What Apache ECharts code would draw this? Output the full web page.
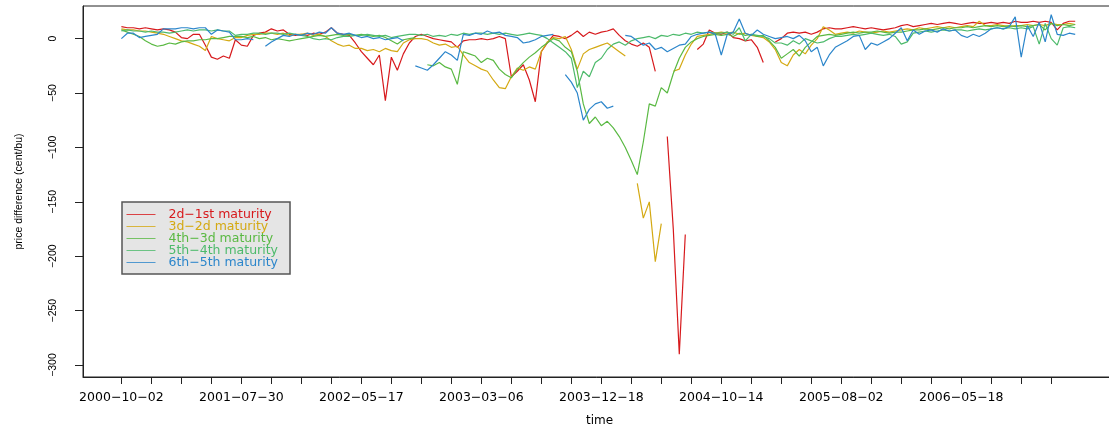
<!DOCTYPE html>
<html><head><meta charset="utf-8">
<script src="https://cdn.jsdelivr.net/npm/echarts@6/dist/echarts.min.js"></script>
<style>html,body{margin:0;padding:0;background:#fff}#c{width:1109px;height:425px}</style>
</head><body><div id="c"></div>
<script>
// series names and colours
const seriesNames = ["2d\u22121st maturity","3d\u22122d maturity","4th\u22123d maturity","5th\u22124th maturity","6th\u22125th maturity"];
const seriesColors = ["#d7191c","#d4a913","#5ab943","#4dba6b","#2c86cb"];
// date labels, one every 200 trading days starting at observation 0
const tickDates = ["2000-10-02","2001-07-30","2002-05-17","2003-03-06","2003-12-18","2004-10-14","2005-08-02","2006-05-18"];
const sampleStep = 10; // trading days between stored samples

// spread values (cent/bu), sampled every 10 trading days from 2000-10-02
const spread21 = [
 11,10,10,9,10,9,8,9,8,6,
 1,0,4,4,-6,-17,-19,-16,-18,-1,
 -6,-7,3,5,6,9,7,8,4,3,
 4,3,5,4,6,10,5,4,3,-4,
 -12,-18,-24,-15,-57,-17,-29,-14,-4,2,
 4,2,0,-1,-2,-3,-8,-2,-1,-1,
 0,-1,0,2,0,-35,-30,-24,-38,-58,
 -12,-4,3,2,0,3,7,2,6,4,
 6,7,9,3,-2,-5,-7,-4,-8,-30,
 null,-90,-175,-290,-180,null,-10,-5,8,5,
 4,6,1,0,-2,-1,-8,-22,null,-3,
 0,5,6,5,6,4,6,9,10,9,
 9,10,11,10,9,10,9,8,9,10,
 12,13,11,12,13,14,13,14,15,14,
 13,14,15,14,14,15,14,15,14,16,
 15,15,16,15,16,15,8,14,16,16];
const spread32 = [
 9,8,8,7,7,6,5,4,2,0,
 -2,-3,-5,-7,-11,2,0,-1,-2,1,
 1,3,4,4,5,5,4,5,3,4,
 4,5,3,4,2,-2,-5,-7,-6,-9,
 -9,-11,-10,-12,-9,-11,-12,-4,-1,0,
 0,-1,-4,-6,-5,-8,-7,-15,-22,-25,
 -28,-30,-38,-45,-46,-35,-27,-29,-26,-28,
 -12,-3,1,0,2,-10,-28,-14,-10,-8,
 -6,-4,-8,-12,-16,null,-133,-165,-150,-205,
 -170,null,-30,-28,-15,-5,2,3,4,5,
 6,5,6,4,5,3,2,1,-3,-10,
 -22,-25,-15,-10,-14,-6,0,11,8,4,
 5,6,5,7,6,5,6,7,6,7,
 8,9,8,10,9,10,11,10,11,10,
 11,12,11,16,12,12,13,12,11,12,
 12,13,12,13,12,14,13,13,14,13];
const spread43 = [
 8,6,4,2,-2,-5,-7,-6,-4,-5,
 -3,-2,-2,-1,-1,0,0,1,2,2,
 2,1,2,0,1,-1,0,-1,-2,-1,
 0,1,2,3,2,3,4,3,4,3,
 4,3,2,3,1,-2,-5,-1,0,1,
 null,-24,-25,-22,-26,-28,-42,-12,-14,-16,
 -22,-18,-20,-28,-33,-36,-28,-22,-17,-13,
 -8,-4,0,-2,-8,-12,-30,-60,-78,-72,
 -80,-76,-82,-90,-100,-112,-125,-95,-60,-62,
 -45,-50,-32,-18,-8,-3,0,2,3,4,
 3,4,2,5,3,4,2,3,-2,-8,
 -18,-14,-10,-16,-8,-3,2,3,4,3,
 4,5,6,5,6,6,7,6,5,6,
 6,7,8,8,9,8,9,10,9,10,
 10,11,10,11,12,11,12,11,12,11,
 12,11,12,13,8,14,12,13,12,13];
const spread54 = [
 7,8,7,7,6,7,6,6,5,6,
 7,8,7,8,8,7,8,7,7,3,
 4,4,5,5,4,5,5,4,5,4,
 3,2,0,-1,0,-1,1,2,2,3,
 3,4,3,2,3,1,2,3,4,4,
 3,4,2,3,2,4,3,5,4,5,
 5,4,5,4,5,4,3,4,5,4,
 3,0,-4,-8,-12,-18,-45,-30,-35,-22,
 -18,-10,-5,-3,-6,-2,0,1,2,0,
 3,2,4,3,5,4,6,5,6,5,
 5,6,4,10,-2,4,3,2,0,-4,
 -4,-6,-2,-5,0,-2,-4,-3,0,2,
 2,3,4,3,4,5,4,3,4,2,
 -5,-3,5,6,7,6,7,8,7,8,
 8,7,8,9,8,9,10,9,10,9,
 10,9,11,-5,14,0,-6,10,11,10];
const spread65 = [
 0,5,5,1,2,3,4,9,9,9,
 10,10,9,10,10,4,8,7,6,-1,
 -1,0,-1,null,-7,-3,0,3,2,4,
 3,5,4,6,5,10,5,4,5,3,
 1,2,0,1,-1,0,1,-2,null,-25,
 -27,-29,-24,-18,-12,-15,-20,4,3,5,
 4,7,5,6,3,2,1,-4,-3,-1,
 2,3,4,null,-33,-40,-50,-75,-65,-60,
 -58,-64,-62,null,3,2,-2,-6,-4,-10,
 -8,-12,-9,-6,-5,2,4,5,6,4,
 -15,4,6,18,5,3,8,4,2,0,
 1,2,0,3,-2,-12,-8,-25,-15,-8,
 -5,-2,2,3,-10,-4,-6,-3,0,5,
 10,-2,8,4,7,8,6,9,7,8,
 3,1,4,2,5,9,10,9,11,20,
 -17,12,2,15,-3,22,4,3,5,4];

const allSeries = [spread21, spread32, spread43, spread54, spread65];
const obsIndex = spread21.map((_, i) => i * sampleStep);
const labelAt = tickDates.map((_, i) => i * 200);
const tickAt = []; for (let v = 0; v <= 1550; v += 50) tickAt.push(v);
const yTicks = [0,-50,-100,-150,-200,-250,-300];

const chart = echarts.init(document.getElementById('c'), null, {renderer:'canvas'});
const minus = s => String(s).replace(/-/g, '\u2212');
chart.setOption({
  animation: false,
  backgroundColor: '#fff',
  grid: {left: 83, right: -7, top: 6, bottom: 48, show: true, borderColor: '#222', borderWidth: 1,
    containLabel: false, outerBoundsMode: 'none'},
  legend: {
    left: 122, top: 202, orient: 'vertical',
    backgroundColor: '#e5e5e5', borderColor: '#555', borderWidth: 1.5, borderRadius: 0,
    padding: [6, 12, 5, 4], itemWidth: 29, itemHeight: 11, itemGap: -1,
    selectedMode: false,
    itemStyle: {opacity: 0},
    lineStyle: {width: 1, opacity: 0.8},
    formatter: n => '  ' + n,
    textStyle: {fontFamily: 'DejaVu Sans', fontSize: 12.5, lineHeight: 11},
    data: seriesNames.map((n, i) => ({name: n, textStyle: {color: seriesColors[i]}}))
  },
  xAxis: {
    type: 'value', min: -64, max: 1658,
    name: 'time', nameLocation: 'middle', nameGap: 38,
    nameTextStyle: {fontFamily: 'DejaVu Sans', fontSize: 12, color: '#000'},
    axisLine: {show: true, onZero: false, lineStyle: {color: '#222', width: 1}},
    axisTick: {show: true, length: 7, customValues: tickAt, lineStyle: {color: '#222'}},
    axisLabel: {customValues: labelAt, margin: 14, fontFamily: 'DejaVu Sans', fontSize: 12.5, color: '#000',
      formatter: v => minus(tickDates[Math.round(v / 200)] || '')},
    splitLine: {show: false}
  },
  yAxis: {
    type: 'value', min: -311, max: 30,
    name: 'price difference (cent/bu)', nameLocation: 'middle', nameGap: 58, nameRotate: 90,
    nameTextStyle: {fontFamily: 'Liberation Sans', fontSize: 10.5, color: '#000'},
    axisLine: {show: true, onZero: false, lineStyle: {color: '#222', width: 1}},
    axisTick: {show: true, length: 8, customValues: yTicks, lineStyle: {color: '#222'}},
    axisLabel: {customValues: yTicks, rotate: 90, margin: 24, fontFamily: 'Liberation Sans', fontSize: 10.5, color: '#000',
      formatter: v => minus(v)},
    splitLine: {show: false}
  },
  series: allSeries.map((arr, si) => ({
    name: seriesNames[si], type: 'line', symbol: 'none', showSymbol: false,
    connectNulls: false, silent: true,
    lineStyle: {color: seriesColors[si], width: 1.2},
    itemStyle: {color: seriesColors[si]},
    emphasis: {disabled: true},
    data: arr.map((v, i) => [obsIndex[i], v === null ? '-' : v])
  }))
});
</script></body></html>
